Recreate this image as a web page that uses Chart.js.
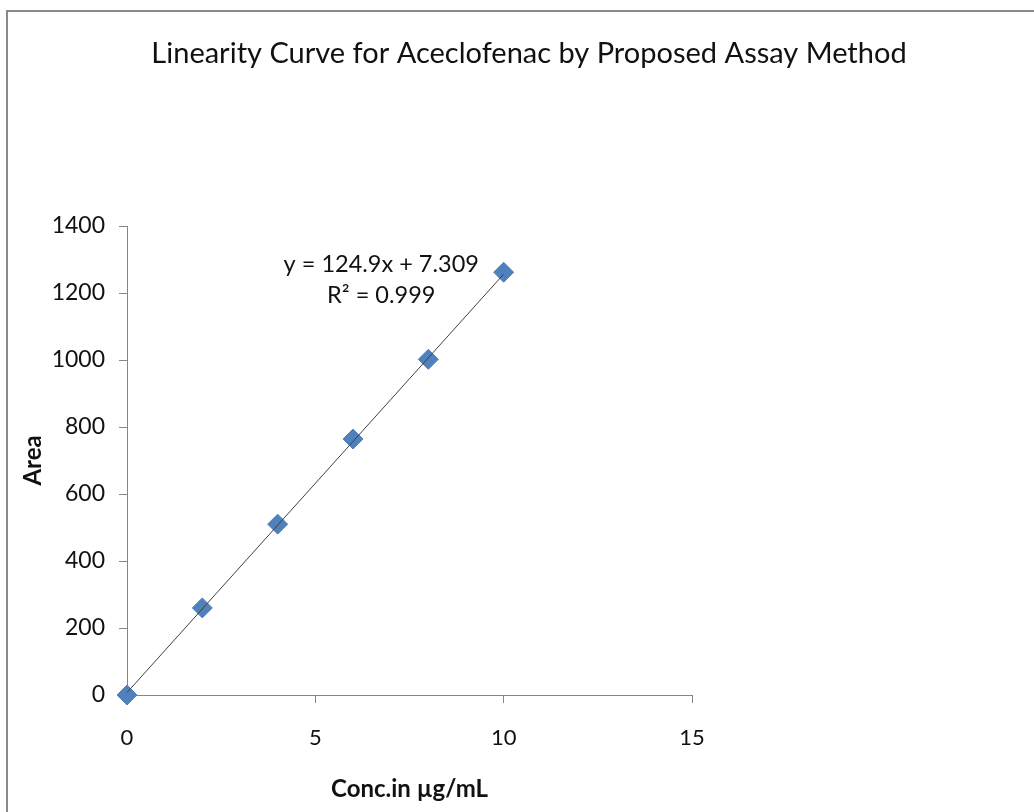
<!DOCTYPE html>
<html>
<head>
<meta charset="utf-8">
<script src="https://cdn.jsdelivr.net/npm/chart.js@4"></script>
<style>
  html, body { margin: 0; padding: 0; background: #fff; }
  #wrap { width: 1034px; height: 812px; }
</style>
</head>
<body>
<div id="wrap"><canvas id="myChart" width="1034" height="812"></canvas></div>
<script>
// data
const concX = [0, 2, 4, 6, 8, 10];
const areaY = [0, 260, 510, 764, 1002, 1262];
// trendline end points (from the shown equation y = 124.9x + 7.309)
const trendX = [0, 10];
const trendY = [7.309, 1256.3];
const eqLines = ['y = 124.9x + 7.309', 'R² = 0.999'];
const chartTitle = 'Linearity Curve for Aceclofenac by Proposed Assay Method';

var axisGray = '#868686';
var blue = '#4f81bd';
var fontFam = 'Lato, "Open Sans", sans-serif';

const frame = {
  id: 'frame',
  afterDraw(chart) {
    const ctx = chart.ctx;
    ctx.save();
    ctx.strokeStyle = '#8a8a8a';
    ctx.lineWidth = 2;
    ctx.strokeRect(7, 11, 1100, 900);
    // title, centred on the whole frame
    ctx.font = '29px ' + fontFam;
    ctx.fillStyle = '#111';
    ctx.textAlign = 'center';
    ctx.textBaseline = 'middle';
    ctx.fillText(chartTitle, 529, 54);
    ctx.restore();
  }
};

const equation = {
  id: 'equation',
  afterDatasetsDraw(chart) {
    const {ctx, scales: {x, y}} = chart;
    ctx.save();
    ctx.font = '23.5px ' + fontFam;
    ctx.fillStyle = '#111';
    ctx.textAlign = 'center';
    ctx.textBaseline = 'middle';
    const cx = x.getPixelForValue(6.75);
    ctx.fillText(eqLines[0], cx, y.getPixelForValue(1286));
    ctx.fillText(eqLines[1], cx, y.getPixelForValue(1194));
    ctx.restore();
  }
};

const data = {
  datasets: [
    {
      label: 'Linear trend',
      data: trendX.map((v, i) => ({x: v, y: trendY[i]})),
      showLine: true,
      borderColor: '#404040',
      borderWidth: 1,
      pointRadius: 0,
      fill: false,
      clip: false,
    },
    {
      label: 'Area',
      data: concX.map((v, i) => ({x: v, y: areaY[i]})),
      pointStyle: 'rectRot',
      pointRadius: 10,
      backgroundColor: blue,
      borderColor: blue,
      showLine: false,
      clip: false,
    },
  ],
};

const plainNum = function (value) { return String(value); };

const config = {
  type: 'scatter',
  data: data,
  plugins: [frame, equation],
  options: {
    responsive: false,
    animation: false,
    layout: {
      padding: { left: 14, right: 342, top: 226, bottom: 0 },
    },
    plugins: {
      legend: { display: false },
      tooltip: { enabled: false },
      title: { display: false },
    },
    scales: {
      x: {
        type: 'linear',
        min: 0,
        max: 15,
        afterFit(scale) { scale.height = 117; },
        ticks: { stepSize: 5, color: '#111', padding: 22, callback: plainNum, font: { family: fontFam, size: 22 } },
        grid: { display: true, drawOnChartArea: false, drawTicks: true, tickLength: 8, color: axisGray },
        border: { display: true, color: axisGray, width: 1 },
        title: {
          display: true,
          text: 'Conc.in µg/mL',
          color: '#111',
          font: { family: fontFam, size: 24, weight: 'bold' },
          padding: { top: 0, bottom: 8 },
        },
      },
      y: {
        min: 0,
        max: 1400,
        afterFit(scale) { scale.width = 113; },
        ticks: { stepSize: 200, color: '#111', padding: 14, callback: plainNum, font: { family: fontFam, size: 23 } },
        grid: { display: true, drawOnChartArea: false, drawTicks: true, tickLength: 8, color: axisGray },
        border: { display: true, color: axisGray, width: 1 },
        title: {
          display: true,
          text: 'Area',
          color: '#111',
          font: { family: fontFam, size: 24, weight: 'bold' },
          padding: { top: 5, bottom: 0 },
        },
      },
    },
  },
};

var myChart = new Chart(document.getElementById('myChart'), config);
</script>
</body>
</html>
